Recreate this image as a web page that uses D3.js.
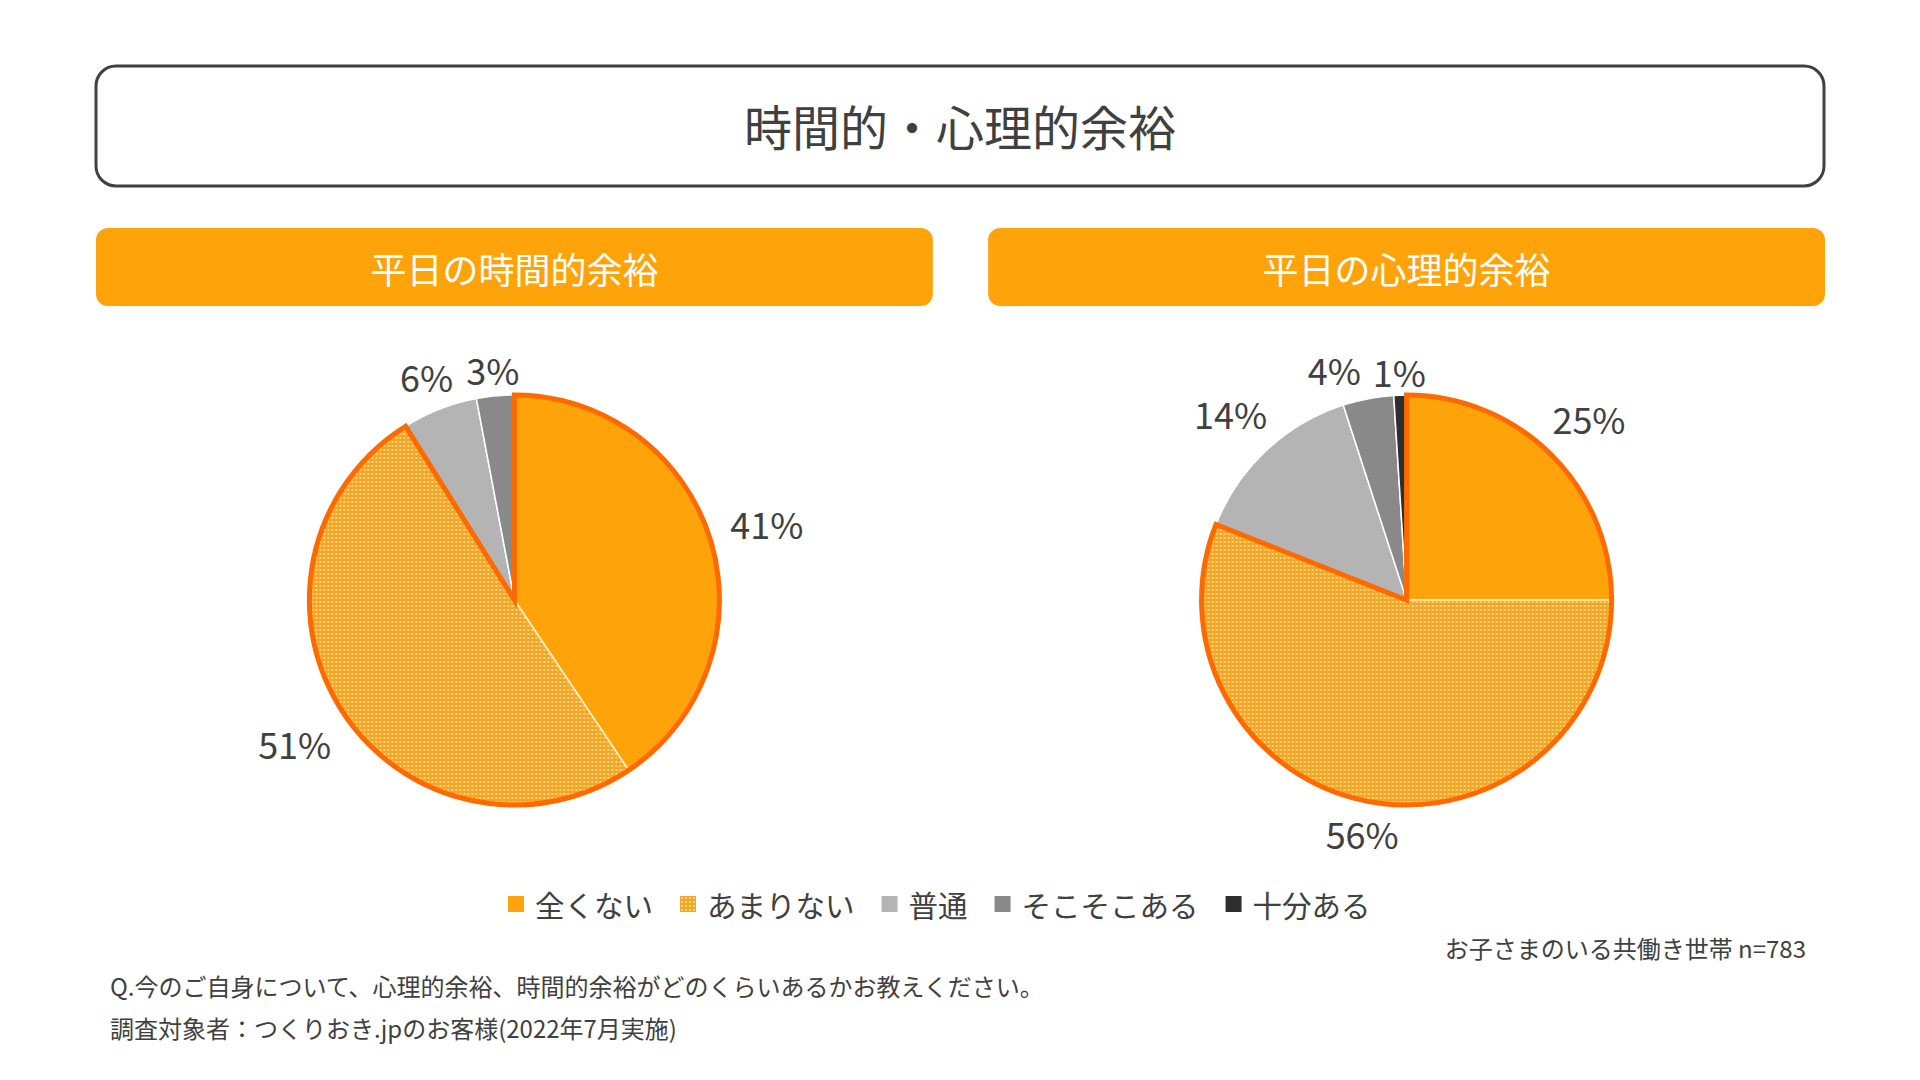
<!DOCTYPE html>
<html>
<head>
<meta charset="utf-8">
<script src="https://cdn.jsdelivr.net/npm/d3@7"></script>
<style>
body { margin: 0; background: #fff; }
text { font-family: "Noto Sans CJK JP", "Noto Sans", sans-serif; }
</style>
</head>
<body>
<svg id="chart" width="1920" height="1080"></svg>
<script>
// Data
var chartTitle = '時間的・心理的余裕';
var panelTitles = ['平日の時間的余裕', '平日の心理的余裕'];
var categories = ['全くない', 'あまりない', '普通', 'そこそこある', '十分ある'];
var timeValues = [41, 51, 6, 3, 0];
var mindValues = [25, 56, 14, 4, 1];
var sampleNote = 'お子さまのいる共働き世帯 n=783';
var footnotes = [
    'Q.今のご自身について、心理的余裕、時間的余裕がどのくらいあるかお教えください。',
    '調査対象者：つくりおき.jpのお客様(2022年7月実施)'
];

var W = 1920, H = 1080;
var textColor = '#404040';
var fills = ['#FFA30A', 'url(#dots)', '#B4B4B4', '#898989', '#2E2E2E'];
var outlineColor = '#FF6A00';

var svg = d3.select('#chart');

// dotted pattern for あまりない
var defs = svg.append('defs');
var pat = defs.append('pattern').attr('id', 'dots')
    .attr('width', 4).attr('height', 4)
    .attr('patternUnits', 'userSpaceOnUse');
pat.append('rect').attr('width', 4).attr('height', 4).attr('fill', '#F4A42A');
pat.append('circle').attr('cx', 2).attr('cy', 2).attr('r', 1.1).attr('fill', '#FFE680');

// Main title box
svg.append('rect')
    .attr('x', 96).attr('y', 66).attr('width', 1728).attr('height', 120)
    .attr('rx', 20).attr('fill', '#fff')
    .attr('stroke', textColor).attr('stroke-width', 3);
svg.append('text')
    .attr('x', 960).attr('y', 125)
    .attr('text-anchor', 'middle').attr('dominant-baseline', 'central')
    .attr('font-size', 48).attr('fill', textColor)
    .text(chartTitle);

// Panel layout
var panelX = d3.scaleBand().domain(d3.range(panelTitles.length))
    .range([96, 1825]).paddingInner(0.062);
var radius = 205, pieCY = 600;

function PiePanel(root, values, idx) {
    var x0 = panelX(idx), bw = panelX.bandwidth();
    var cx = x0 + bw / 2;

    root.append('rect')
        .attr('x', x0).attr('y', 228).attr('width', bw).attr('height', 78)
        .attr('rx', 12).attr('fill', '#FFA30A');
    root.append('text')
        .attr('x', cx).attr('y', 268)
        .attr('text-anchor', 'middle').attr('dominant-baseline', 'central')
        .attr('font-size', 36).attr('fill', '#fff')
        .text(panelTitles[idx]);

    var pie = d3.pie().sort(null).value((d) => d);
    var arcs = pie(values);
    var arc = d3.arc().innerRadius(0).outerRadius(radius);

    var g = root.append('g').attr('transform', 'translate(' + cx + ',' + pieCY + ')');

    g.selectAll('path.slice').data(arcs).enter().append('path')
        .classed('slice', true)
        .attr('d', arc)
        .attr('fill', (d, i) => fills[i])
        .attr('stroke', (d, i) => i < 2 ? '#FFF3C8' : '#fff')
        .attr('stroke-width', 1.5);

    // orange outline around the two "not enough" slices
    g.append('path')
        .attr('d', arc({startAngle: arcs[0].startAngle, endAngle: arcs[1].endAngle}))
        .attr('fill', 'none')
        .attr('stroke', outlineColor).attr('stroke-width', 5)
        .attr('stroke-linejoin', 'miter');

    // outside-end labels
    var labels = g.selectAll('text.lbl').data(arcs.filter((d) => d.value > 0))
        .enter().append('text').classed('lbl', true)
        .attr('text-anchor', 'middle').attr('dominant-baseline', 'central')
        .attr('font-size', 36).attr('fill', textColor)
        .text((d) => d.value + '%');

    var boxes = [];
    labels.each(function(d) {
        var a = (d.startAngle + d.endAngle) / 2;
        var hw = this.getComputedTextLength() / 2, hh = 15;
        var s = Math.sin(a), c = Math.cos(a);
        var dist = radius + 8 + Math.abs(s) * (hw + 12) + Math.abs(c) * hh;
        boxes.push({node: this, x: dist * s, y: -dist * c, hw: hw, hh: hh});
    });

    // push overlapping labels apart (later label keeps its place, earlier moves left)
    for (var i = boxes.length - 2; i >= 0; i--) {
        var a = boxes[i], b = boxes[i + 1];
        if (Math.abs(a.y - b.y) < a.hh + b.hh && a.x + a.hw + 12 > b.x - b.hw && b.x > a.x - a.hw)
            a.x = b.x - b.hw - a.hw - 12;
    }
    boxes.forEach((b) => d3.select(b.node).attr('x', b.x).attr('y', b.y));
}

PiePanel(svg.append('g'), timeValues, 0);
PiePanel(svg.append('g'), mindValues, 1);

// Legend
var legend = svg.append('g');
var lx = 508, ly = 904;
categories.forEach((name, i) => {
    legend.append('rect')
        .attr('x', lx).attr('y', ly - 8).attr('width', 16).attr('height', 16)
        .attr('fill', fills[i]);
    var t = legend.append('text')
        .attr('x', lx + 27).attr('y', ly)
        .attr('dominant-baseline', 'central')
        .attr('font-size', 29.5).attr('fill', textColor)
        .text(name);
    lx += 27 + t.node().getComputedTextLength() + 27;
});

// Notes
svg.append('text')
    .attr('x', 1806).attr('y', 958)
    .attr('text-anchor', 'end')
    .attr('font-size', 24).attr('fill', textColor)
    .text(sampleNote);

svg.selectAll('text.foot').data(footnotes).enter().append('text')
    .classed('foot', true)
    .attr('x', 110).attr('y', (d, i) => 996 + i * 42)
    .attr('font-size', 24).attr('fill', textColor)
    .text((d) => d);
</script>
</body>
</html>
